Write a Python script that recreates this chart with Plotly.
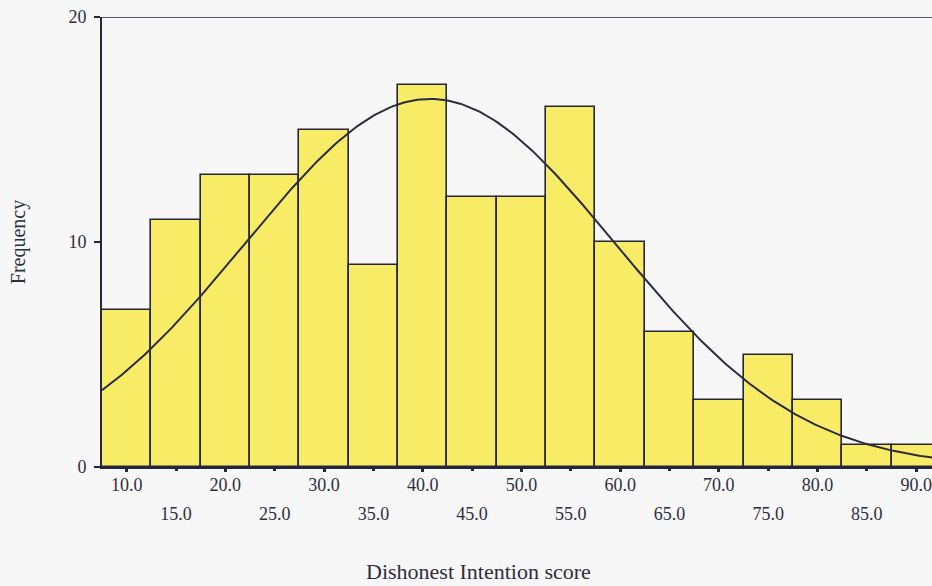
import numpy as np
import plotly.graph_objects as go

# Histogram of dishonest intention scores (bin width 5)
bin_centers = [10, 15, 20, 25, 30, 35, 40, 45, 50, 55, 60, 65, 70, 75, 80, 85, 90]
frequencies = [7, 11, 13, 13, 15, 9, 17, 12, 12, 16, 10, 6, 3, 5, 3, 1, 1]
bin_width = 5

row1_ticks = [10, 20, 30, 40, 50, 60, 70, 80, 90]
row2_ticks = [15, 25, 35, 45, 55, 65, 75, 85]
y_ticks = [0, 10, 20]

# Fitted normal curve from the binned data
x_arr = np.array(bin_centers, dtype=float)
f_arr = np.array(frequencies, dtype=float)
n = f_arr.sum()
mean = (x_arr * f_arr).sum() / n
sd = np.sqrt((f_arr * (x_arr - mean) ** 2).sum() / (n - 1))

x_range = [7.5, 91.6]
xc = np.linspace(x_range[0], x_range[1] + 2, 300)
yc = n * bin_width / (sd * np.sqrt(2 * np.pi)) * np.exp(-0.5 * ((xc - mean) / sd) ** 2)

serif = "Liberation Serif"
ink = "#26263a"
text_col = "#2e2e40"
bg = "#f7f7f7"

fig = go.Figure()
fig.add_trace(go.Bar(
    x=bin_centers, y=frequencies, width=bin_width,
    marker=dict(color="#f8ec66", line=dict(color=ink, width=1.6)),
    showlegend=False, hoverinfo="x+y",
))
fig.add_trace(go.Scatter(
    x=xc, y=yc, mode="lines", line=dict(color="#2a2c40", width=2),
    showlegend=False, hoverinfo="skip",
))
# invisible trace to carry the second row of x tick labels
fig.add_trace(go.Scatter(x=[row2_ticks[0]], y=[0], xaxis="x2", mode="markers",
                         marker=dict(opacity=0), showlegend=False, hoverinfo="skip"))

axis_font = dict(family=serif, size=18, color=text_col)

fig.update_layout(
    width=932, height=586,
    margin=dict(l=102, r=0, t=17, b=119),
    paper_bgcolor=bg, plot_bgcolor=bg,
    bargap=0,
    font=dict(family=serif, color=text_col),
    xaxis=dict(
        range=x_range, tickvals=row1_ticks,
        ticktext=[f"{v:.1f}" for v in row1_ticks],
        ticks="outside", ticklen=3, tickwidth=3, tickcolor=ink,
        ticklabelstandoff=-2,
        showline=True, linecolor=ink, linewidth=1.6,
        showgrid=False, zeroline=False, tickfont=axis_font,
    ),
    xaxis2=dict(
        overlaying="x", anchor="y", side="bottom", matches="x",
        range=x_range, tickvals=row2_ticks,
        ticktext=[f"{v:.1f}" for v in row2_ticks],
        ticks="outside", ticklen=3, tickwidth=3, tickcolor=ink,
        ticklabelstandoff=27,
        showline=False, showgrid=False, zeroline=False, tickfont=axis_font,
    ),
    yaxis=dict(
        range=[0, 20], tickvals=y_ticks, ticktext=[str(v) for v in y_ticks],
        ticks="outside", ticklen=6, tickwidth=2, tickcolor=ink,
        ticklabelstandoff=4,
        showline=True, linecolor=ink, linewidth=1.6,
        showgrid=False, zeroline=False, tickfont=axis_font,
        title=dict(text="Frequency", standoff=38,
                   font=dict(family=serif, size=20, color=text_col)),
    ),
    annotations=[dict(
        text="Dishonest Intention score", xref="paper", yref="paper",
        x=0.454, y=-0.2333, xanchor="center", yanchor="middle", showarrow=False,
        font=dict(family=serif, size=22, color=text_col),
    )],
    shapes=[dict(type="line", xref="paper", yref="y", x0=0, x1=1, y0=20, y1=20,
                 line=dict(color=ink, width=1.6))],
)

fig.write_html("out.html")
